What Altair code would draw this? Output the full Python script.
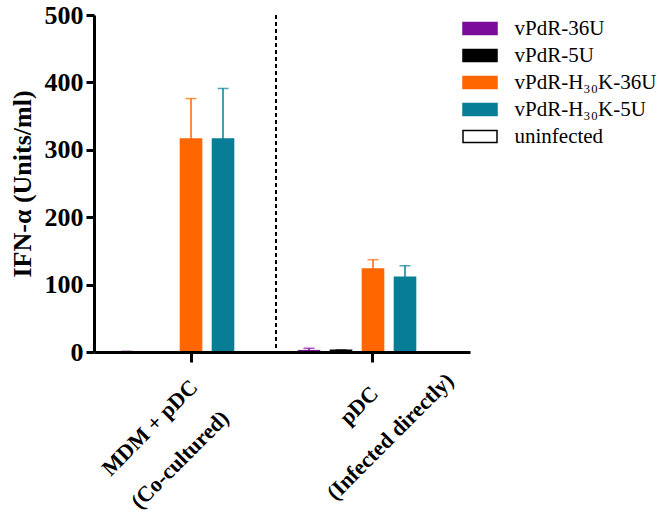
import altair as alt
import pandas as pd

FONT = "Liberation Serif"

groups = ["MDM + pDC|(Co-cultured)", "pDC|(Infected directly)"]
series = ["vPdR-36U", "vPdR-5U", "vPdR-H₃₀K-36U", "vPdR-H₃₀K-5U", "uninfected"]
means_36U = [0.5, 2.0]
means_5U = [0.3, 2.5]
means_H36U = [316, 123]
means_H5U = [316, 111]
means_uninf = [0.3, 0.3]
err_36U = [0.5, 3.5]
err_5U = [0, 0.5]
err_H36U = [60, 14]
err_H5U = [75, 17]
err_uninf = [0, 0]
y_ticks = [0, 100, 200, 300, 400, 500]
y_title = "IFN-α (Units/ml)"

fills = ["#7B0B9B", "#000000", "#FF6600", "#087E96", "#FFFFFF"]
strokes = ["#7B0B9B", "#000000", "#FF6600", "#087E96", "#000000"]

all_means = [means_36U, means_5U, means_H36U, means_H5U, means_uninf]
all_errs = [err_36U, err_5U, err_H36U, err_H5U, err_uninf]
rows = []
for s, m, e in zip(series, all_means, all_errs):
    for g, v, ev in zip(groups, m, e):
        rows.append({"group": g, "series": s, "value": v, "err": ev})
df = pd.DataFrame(rows)

x_scale = alt.Scale(domain=groups, paddingInner=0.066, paddingOuter=0.066)
xo_scale = alt.Scale(domain=series, paddingInner=0.34, paddingOuter=0.326)
y_scale = alt.Scale(domain=[0, 500], nice=False)

first = groups[0]
x_axis = alt.Axis(
    labelExpr="split(datum.label, '|')",
    labelAngle=-45,
    labelFont=FONT, labelFontSize=22, labelFontWeight="bold", labelColor="black",
    labelLineHeight=44,
    labelAlign={"condition": {"test": f"datum.value == '{first}'", "value": "right"}, "value": "center"},
    labelOffset={"condition": {"test": f"datum.value == '{first}'", "value": -4}, "value": -21},
    labelPadding={"condition": {"test": f"datum.value == '{first}'", "value": 14}, "value": 36},
    labelBaseline="top",
    labelLimit=400, labelOverlap=False, labelBound=False,
    domainWidth=3, domainColor="black",
    tickWidth=3, tickSize=10, tickColor="black",
    grid=False, zindex=1,
)
y_axis = alt.Axis(
    values=y_ticks,
    labelFont=FONT, labelFontSize=26, labelFontWeight="bold", labelColor="black", labelPadding=3,
    titleFont=FONT, titleFontSize=26, titleFontWeight="bold", titleColor="black", titlePadding=9,
    domainWidth=3, domainColor="black",
    tickWidth=3, tickSize=8, tickColor="black",
    grid=False, zindex=1,
)

legend = alt.Legend(
    title=None, orient="none", legendX=375.5, legendY=3,
    symbolType="M-2,-0.7H2V0.7H-2Z", symbolSize=289, symbolStrokeWidth=1.5,
    labelFont=FONT, labelFontSize=21, labelColor="black", labelOffset=24,
    rowPadding=5, padding=0, symbolOpacity=1,
)

X = alt.X("group:N", sort=groups, scale=x_scale, axis=x_axis, title=None)
XO = alt.XOffset("series:N", sort=series, scale=xo_scale)
Y = alt.Y("value:Q", scale=y_scale, axis=y_axis, title=y_title)

bars = alt.Chart(df).mark_bar(strokeWidth=1.5).encode(
    x=X, xOffset=XO, y=Y,
    fill=alt.Fill("series:N", sort=series, scale=alt.Scale(domain=series, range=fills), legend=legend),
    stroke=alt.Stroke("series:N", sort=series, scale=alt.Scale(domain=series, range=strokes), legend=legend),
)

errbase = alt.Chart(df).transform_filter("datum.err > 0").transform_calculate(top="datum.value + datum.err")
ecolor = alt.Color("series:N", sort=series, scale=alt.Scale(domain=series, range=strokes), legend=None)
rules = errbase.mark_rule(strokeWidth=1.5).encode(
    x=alt.X("group:N", sort=groups, title=None), xOffset=XO,
    y=alt.Y("value:Q", title=y_title), y2="top:Q", color=ecolor
)
caps = errbase.mark_tick(thickness=1.5, size=11).encode(
    x=alt.X("group:N", sort=groups, title=None), xOffset=XO,
    y=alt.Y("top:Q", title=y_title), color=ecolor
)

sep_df = pd.DataFrame({"group": [groups[0]], "top": [500], "bottom": [0]})
sep = alt.Chart(sep_df).mark_rule(strokeDash=[4, 3], strokeWidth=2, color="black").encode(
    x=alt.X("group:N", bandPosition=1, title=None),
    y=alt.Y("top:Q", title=y_title), y2="bottom:Q"
)

chart = alt.layer(bars, rules, caps, sep).properties(
    width=376, height=337,
    padding={"left": 94, "top": 15, "right": 189, "bottom": 162},
    autosize=alt.AutoSizeParams(type="none"),
    background="white",
).configure_view(stroke="transparent")

chart.save("out.html", embed_options={"renderer": "svg", "actions": False})
